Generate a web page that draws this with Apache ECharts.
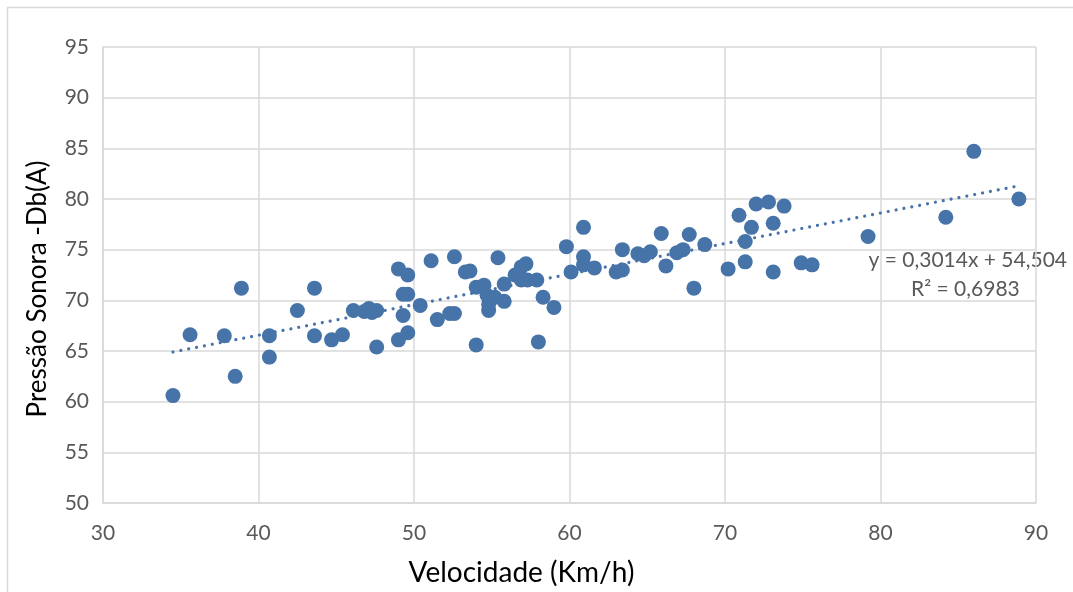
<!DOCTYPE html>
<html>
<head>
<meta charset="utf-8">
<script src="https://cdn.jsdelivr.net/npm/echarts@6/dist/echarts.min.js"></script>
<style>
html,body{margin:0;padding:0;background:#fff;}
#chart{width:1073px;height:592px;}
</style>
</head>
<body>
<div id="chart"></div>
<script>
// Velocidade (km/h)
const velocidade = [34.5,35.6,37.8,38.5,38.9,40.7,40.7,42.5,43.6,43.6,44.7,45.4,46.1,46.8,47.1,47.3,47.6,47.6,
  49.0,49.0,49.3,49.6,49.3,49.6,49.6,50.4,51.1,51.5,52.3,52.6,52.6,53.3,53.6,54.0,54.0,54.5,54.7,54.8,54.8,
  55.4,55.2,55.8,55.8,56.5,56.9,57.2,56.9,57.3,57.9,58.3,59.0,58.0,59.8,60.1,60.9,60.9,60.9,61.6,63.0,63.4,
  63.4,64.4,64.8,65.2,65.9,66.2,66.9,67.3,67.7,68.0,68.7,70.2,70.9,71.3,71.3,71.7,72.0,72.8,73.1,73.1,73.8,
  74.9,75.6,79.2,84.2,86.0,88.9];
// Pressão sonora dB(A)
const pressao = [60.6,66.6,66.5,62.5,71.2,66.5,64.4,69.0,71.2,66.5,66.1,66.6,69.0,68.9,69.2,68.8,69.0,65.4,
  73.1,66.1,70.6,70.6,68.5,72.5,66.8,69.5,73.9,68.1,68.7,68.7,74.3,72.8,72.9,71.3,65.6,71.5,70.5,69.0,69.6,
  74.2,70.3,71.6,69.9,72.5,73.3,73.6,72.0,72.0,72.0,70.3,69.3,65.9,75.3,72.8,77.2,74.3,73.5,73.2,72.8,73.0,
  75.0,74.6,74.4,74.8,76.6,73.4,74.7,75.0,76.5,71.2,75.5,73.1,78.4,75.8,73.8,77.2,79.5,79.7,77.6,72.8,79.3,
  73.7,73.5,76.3,78.2,84.7,80.0];
// Linear trendline endpoints (y = 0,3014x + 54,504)
const trendX = [34.5, 88.9];
const trendY = [64.90, 81.30];
const xTicks = [30, 40, 50, 60, 70, 80, 90];
const yTicks = [50, 55, 60, 65, 70, 75, 80, 85, 90, 95];
const equationText = 'y = 0,3014x + 54,504';
const r2Text = 'R² = 0,6983';

const points = velocidade.map((v, i) => [v, pressao[i]]);
const trend = trendX.map((v, i) => [v, trendY[i]]);
const blue = '#4673A8';
const font = 'Lato, "Open Sans", sans-serif';

const chart = echarts.init(document.getElementById('chart'), null, {renderer: 'canvas'});
chart.setOption({
  animation: false,
  backgroundColor: '#fff',
  grid: {left: 103, right: 37, top: 47, bottom: 87, containLabel: false},
  xAxis: {
    type: 'value', min: xTicks[0], max: xTicks[xTicks.length - 1], interval: 10,
    name: 'Velocidade (Km/h)', nameLocation: 'middle', nameGap: 56,
    nameTextStyle: {fontFamily: font, fontSize: 28, color: '#000', padding: [0, 96, 0, 0]},
    axisLine: {show: true, lineStyle: {color: '#d9d9d9', width: 1.5}},
    axisTick: {show: false},
    axisLabel: {fontFamily: font, fontSize: 21, color: '#595959', margin: 20},
    splitLine: {show: true, lineStyle: {color: '#d9d9d9', width: 1.5}}
  },
  yAxis: {
    type: 'value', min: yTicks[0], max: yTicks[yTicks.length - 1], interval: 5,
    name: 'Pressão Sonora -Db(A)', nameLocation: 'middle', nameGap: 52, nameRotate: 90,
    nameTextStyle: {fontFamily: font, fontSize: 26, color: '#000', padding: [0, 28, 0, 0]},
    axisLine: {show: true, lineStyle: {color: '#d9d9d9', width: 1.5}},
    axisTick: {show: false},
    axisLabel: {fontFamily: font, fontSize: 21, color: '#595959', margin: 14},
    splitLine: {show: true, lineStyle: {color: '#d9d9d9', width: 1.5}}
  },
  series: [
    {
      type: 'line', data: trend, symbol: 'none', silent: true, z: 1,
      lineStyle: {color: blue, width: 3.2, type: [0.01, 8], cap: 'round'}
    },
    {
      type: 'scatter', data: points, symbol: 'circle', symbolSize: 15, z: 2,
      itemStyle: {color: blue, opacity: 1}
    }
  ],
  graphic: [
    {type: 'rect', shape: {x: 7.5, y: 7.5, width: 1200, height: 700},
     style: {fill: 'none', stroke: '#d9d9d9', lineWidth: 1.5}, z: -10, silent: true},
    {type: 'text', right: 6, top: 250,
     style: {text: equationText, font: '21px ' + font, fill: '#595959'}},
    {type: 'text', left: 911, top: 279,
     style: {text: r2Text, font: '21px ' + font, fill: '#595959'}}
  ]
});
</script>
</body>
</html>
